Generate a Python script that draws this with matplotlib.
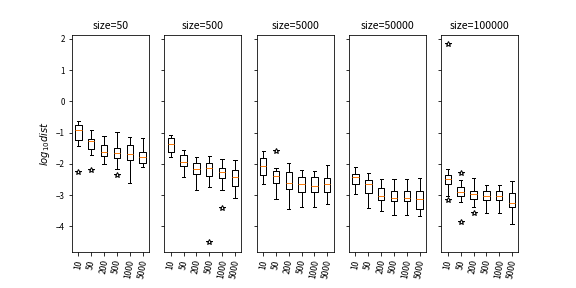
import matplotlib
matplotlib.use("Agg")
import matplotlib.pyplot as plt

plt.rcParams['font.family'] = ['Noto Sans CJK SC', 'DejaVu Sans']
plt.rcParams['axes.unicode_minus'] = True

sizes = [50, 500, 5000, 50000, 100000]
k_labels = ['10', '50', '200', '500', '1000', '5000']

# per panel: lists over k_labels
whislo = [
    [-1.44, -1.71, -2.00, -2.15, -2.61, -2.10],
    [-1.77, -2.41, -2.83, -2.73, -2.83, -3.09],
    [-2.64, -3.12, -3.44, -3.37, -3.37, -3.28],
    [-2.96, -3.41, -3.50, -3.63, -3.63, -3.66],
    [-3.02, -3.21, -3.37, -3.57, -3.57, -3.92],
]
q1 = [
    [-1.22, -1.52, -1.74, -1.80, -1.89, -1.97],
    [-1.62, -2.07, -2.33, -2.38, -2.46, -2.70],
    [-2.35, -2.61, -2.80, -2.89, -2.89, -2.89],
    [-2.64, -2.93, -3.15, -3.18, -3.18, -3.44],
    [-2.64, -3.02, -3.12, -3.15, -3.15, -3.37],
]
med = [
    [-0.93, -1.28, -1.61, -1.65, -1.68, -1.78],
    [-1.36, -1.93, -2.16, -2.13, -2.26, -2.41],
    [-2.07, -2.38, -2.61, -2.64, -2.70, -2.64],
    [-2.41, -2.64, -3.02, -3.09, -3.09, -3.12],
    [-2.48, -2.89, -2.96, -3.02, -3.02, -3.25],
]
q3 = [
    [-0.77, -1.19, -1.39, -1.49, -1.39, -1.61],
    [-1.17, -1.71, -1.97, -1.97, -2.13, -2.19],
    [-1.81, -2.22, -2.25, -2.41, -2.41, -2.45],
    [-2.32, -2.51, -2.77, -2.86, -2.86, -2.86],
    [-2.35, -2.73, -2.86, -2.86, -2.86, -2.93],
]
whishi = [
    [-0.64, -0.93, -1.10, -0.97, -1.13, -1.17],
    [-1.07, -1.55, -1.77, -1.74, -1.84, -1.87],
    [-1.58, -2.13, -1.97, -2.19, -2.22, -2.03],
    [-2.09, -2.29, -2.48, -2.48, -2.48, -2.45],
    [-2.16, -2.51, -2.45, -2.67, -2.67, -2.54],
]
fliers = [
    [[-2.27], [-2.18], [], [-2.34], [], []],
    [[], [], [], [-4.50], [-3.41], []],
    [[], [-1.60], [], [], [], []],
    [[], [], [], [], [], []],
    [[1.82, -3.15], [-2.29, -3.87], [-3.57], [], [], []],
]

fig, axes = plt.subplots(1, 5, figsize=(8, 4), dpi=72, sharey=True)
fig.subplots_adjust(bottom=0.125)

for p, ax in enumerate(axes):
    stats = []
    for j, lab in enumerate(k_labels):
        stats.append(dict(med=med[p][j], q1=q1[p][j], q3=q3[p][j],
                          whislo=whislo[p][j], whishi=whishi[p][j],
                          fliers=fliers[p][j], label=lab))
    ax.bxp(stats, flierprops=dict(marker='*', markerfacecolor='none',
                                  markeredgecolor='black', markersize=6))
    ax.set_title(f'size={sizes[p]}', fontsize=10.5)
    ax.tick_params(axis='x', labelrotation=80, labelsize=8.5)
    ax.tick_params(axis='y', labelsize=8)
    for t in ax.get_xticklabels():
        t.set_fontstyle('italic')

axes[0].set_ylabel('$log_{10}dist$')

fig.savefig('out.png', dpi=72)
